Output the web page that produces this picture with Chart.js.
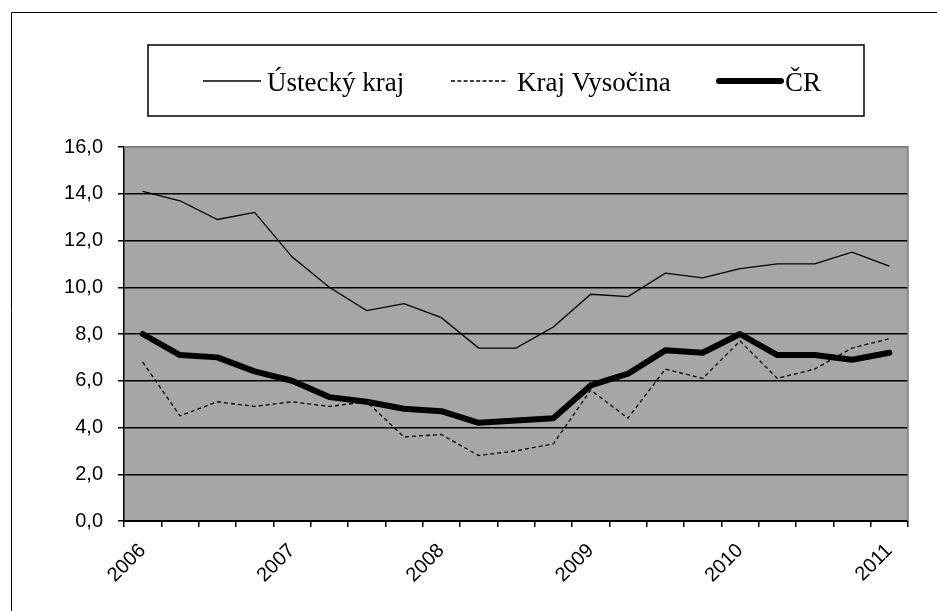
<!DOCTYPE html>
<html><head><meta charset="utf-8">
<script src="https://cdn.jsdelivr.net/npm/chart.js@4.4.1/dist/chart.umd.min.js"></script>
<style>html,body{margin:0;padding:0;background:#fff}#wrap{width:937px;height:611px;position:relative}canvas{display:block}</style>
</head><body><div id="wrap"><canvas id="c" width="937" height="611"></canvas></div>
<script>
const categories = ['I/2006','II/2006','III/2006','IV/2006','I/2007','II/2007','III/2007','IV/2007','I/2008','II/2008','III/2008','IV/2008','I/2009','II/2009','III/2009','IV/2009','I/2010','II/2010','III/2010','IV/2010','I/2011'];
const yearLabels = ['2006','2007','2008','2009','2010','2011'];
const seriesNames = ['Ústecký kraj','Kraj Vysočina','ČR'];
const usteckyValues = [14.1,13.7,12.9,13.2,11.3,10.0,9.0,9.3,8.7,7.4,7.4,8.3,9.7,9.6,10.6,10.4,10.8,11.0,11.0,11.5,10.9];
const vysocinaValues = [6.8,4.5,5.1,4.9,5.1,4.9,5.1,3.6,3.7,2.8,3.0,3.3,5.6,4.4,6.5,6.1,7.7,6.1,6.5,7.4,7.8];
const crValues = [8.0,7.1,7.0,6.4,6.0,5.3,5.1,4.8,4.7,4.2,4.3,4.4,5.8,6.3,7.3,7.2,8.0,7.1,7.1,6.9,7.2];
const yMin = 0, yMax = 16, yStep = 2;

const sansFont = '"Liberation Sans", Arial, sans-serif';
const serifFont = '"Liberation Serif", "Times New Roman", serif';

const decorPlugin = {
  id: 'decor',
  beforeDraw(chart) {
    const ctx = chart.ctx, a = chart.chartArea;
    ctx.save();
    ctx.fillStyle = '#fff';
    ctx.fillRect(0, 0, chart.width, chart.height);
    ctx.strokeStyle = '#000';
    ctx.lineWidth = 1;
    ctx.beginPath();
    ctx.moveTo(11.5, chart.height);
    ctx.lineTo(11.5, 12.5);
    ctx.lineTo(chart.width, 12.5);
    ctx.stroke();
    ctx.fillStyle = '#a6a6a6';
    ctx.fillRect(a.left, a.top, a.right - a.left, a.bottom - a.top);
    ctx.restore();
  },
  afterDraw(chart) {
    const ctx = chart.ctx, a = chart.chartArea;
    ctx.save();
    ctx.strokeStyle = '#7f7f7f';
    ctx.lineWidth = 1.5;
    ctx.beginPath();
    ctx.moveTo(a.left, a.top);
    ctx.lineTo(a.right, a.top);
    ctx.lineTo(a.right, a.bottom);
    ctx.stroke();
    // legend
    ctx.strokeStyle = '#000';
    ctx.lineWidth = 1.5;
    ctx.strokeRect(148, 45, 716, 71);
    const lineX = [203, 451, 719];
    const lineW = [58, 57, 62];
    const gap = [6, 9, 4];
    const legendDash = [null, [4, 2.3], null];
    const cy = 81;
    ctx.font = '27px ' + serifFont;
    ctx.fillStyle = '#000';
    ctx.textBaseline = 'alphabetic';
    chart.data.datasets.forEach((ds, i) => {
      ctx.save();
      ctx.strokeStyle = ds.borderColor;
      ctx.lineWidth = ds.borderWidth;
      ctx.lineCap = ds.borderCapStyle || 'butt';
      ctx.setLineDash(legendDash[i] || ds.borderDash || []);
      ctx.beginPath();
      ctx.moveTo(lineX[i], cy);
      ctx.lineTo(lineX[i] + lineW[i], cy);
      ctx.stroke();
      ctx.restore();
      ctx.fillText(ds.label, lineX[i] + lineW[i] + gap[i], 91);
    });
    ctx.restore();
  }
};

new Chart(document.getElementById('c'), {
  type: 'line',
  data: {
    labels: categories,
    datasets: [
      { label: seriesNames[0], data: usteckyValues, borderColor: '#000', borderWidth: 1.3, pointRadius: 0, tension: 0, fill: false },
      { label: seriesNames[1], data: vysocinaValues, borderColor: '#000', borderWidth: 1.3, borderDash: [4, 3], pointRadius: 0, tension: 0, fill: false },
      { label: seriesNames[2], data: crValues, borderColor: '#000', borderWidth: 6, borderCapStyle: 'round', borderJoinStyle: 'round', pointRadius: 0, tension: 0, fill: false }
    ]
  },
  options: {
    responsive: false,
    animation: false,
    devicePixelRatio: 1,
    layout: { padding: { top: 147, right: 29, left: 0, bottom: 0 } },
    plugins: { legend: { display: false }, tooltip: { enabled: false } },
    scales: {
      x: {
        offset: true,
        afterFit(s) { s.height = 90; },
        grid: { offset: true, drawOnChartArea: false, drawTicks: true, tickLength: 6, color: '#000', lineWidth: 1.5 },
        border: { color: '#000', width: 2 },
        ticks: {
          autoSkip: false, maxRotation: 45, minRotation: 45, padding: 12,
          color: '#000', font: { family: sansFont, size: 20 },
          callback: (v, i) => (i % 4 === 0 ? yearLabels[i / 4] : '')
        }
      },
      y: {
        min: yMin, max: yMax,
        afterFit(s) { s.width = 124; },
        grid: {
          color: (c) => (c.tick && c.tick.value === yMax ? '#7f7f7f' : '#000'),
          lineWidth: 1.5, drawTicks: true, tickLength: 6, tickColor: '#000'
        },
        border: { color: '#000', width: 1.5 },
        ticks: {
          stepSize: yStep, padding: 15, color: '#000',
          font: { family: sansFont, size: 20 },
          callback: (v) => v.toFixed(1).replace('.', ',')
        }
      }
    }
  },
  plugins: [decorPlugin]
});
</script></body></html>
